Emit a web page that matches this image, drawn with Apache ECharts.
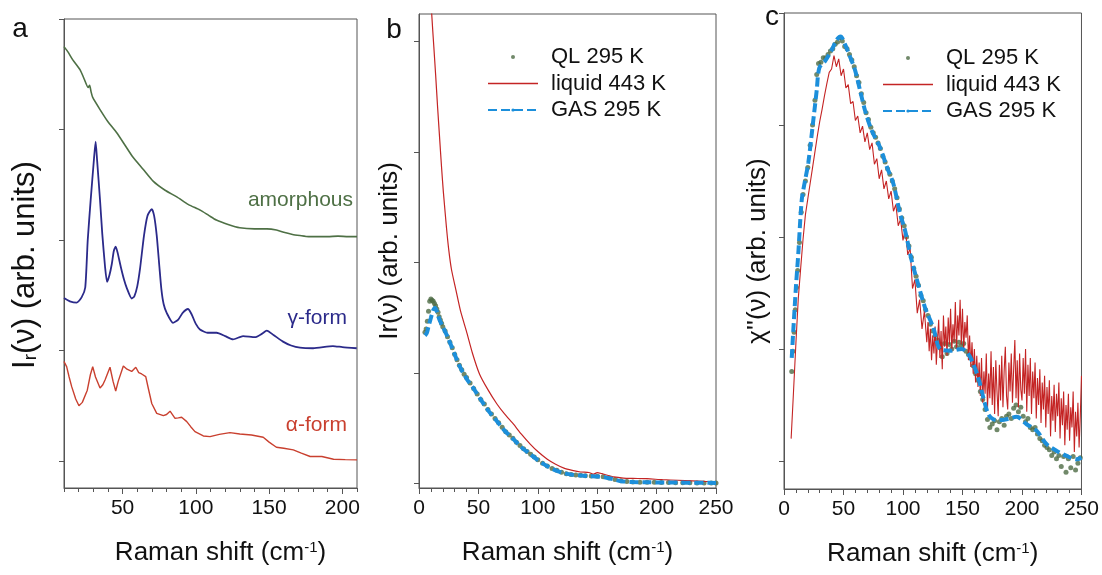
<!DOCTYPE html>
<html><head><meta charset="utf-8">
<script src="https://cdn.jsdelivr.net/npm/echarts@6/dist/echarts.min.js"></script>
<style>html,body{margin:0;padding:0;background:#fff}#c{width:1102px;height:575px}</style>
</head><body><div id="c"></div>
<script>
// ---------- Panel a ----------
const amorX = [10,12.8,16,21,24,26.5,27.5,28.5,29.6,34.6,40,46,52,57,64,71,79,87,95,103,109,114,122,130,140,148.5,155,160,166,171,177,183,190,197,204,210];
const amorY = [3.75,3.70,3.63,3.54,3.45,3.38,3.40,3.34,3.29,3.18,3.07,2.97,2.85,2.75,2.64,2.53,2.45,2.39,2.32,2.27,2.22,2.18,2.14,2.11,2.10,2.10,2.09,2.07,2.05,2.04,2.03,2.03,2.03,2.035,2.03,2.03];
const gammaX = [10,14,18.7,22,24.5,26.2,28.2,30.5,31.6,32.6,34.6,36.1,38,39.4,41,42.6,44,45.3,46.5,48.7,51,53,56.2,58,60,61.9,64.6,67,69.9,71.5,73.3,75.1,76.5,78,80.1,84.4,88,91,94.6,97,100,102.8,108,114.2,120,125.4,132.2,140.4,145,148.4,153,159.5,165,171.1,180,193.6,200,209.8];
const gammaY = [1.475,1.445,1.433,1.48,1.57,2.0,2.36,2.74,2.89,2.72,2.36,2.06,1.76,1.62,1.68,1.78,1.90,1.94,1.89,1.76,1.64,1.56,1.47,1.49,1.58,1.74,2.04,2.22,2.28,2.22,2.04,1.76,1.55,1.42,1.34,1.25,1.28,1.34,1.375,1.33,1.24,1.19,1.16,1.16,1.13,1.10,1.13,1.12,1.15,1.18,1.14,1.08,1.045,1.025,1.02,1.04,1.03,1.02];
const alphaX = [10,11.8,13.5,15.3,18,20.2,22.5,25.9,28,29.6,31.5,34.6,36.5,38,41.4,43.5,45.3,47,50.5,53,56.2,59,61,63,65.8,67.5,69.9,73.3,77.8,80,82.4,85.8,88,90.3,93.8,96.5,99.4,105.1,109.7,116,123.3,130,138,146,150,155,160,166.5,172,178,186,194,202,210];
const alphaY = [0.90,0.853,0.76,0.67,0.56,0.50,0.53,0.64,0.78,0.853,0.76,0.66,0.69,0.733,0.848,0.72,0.633,0.72,0.86,0.83,0.81,0.848,0.80,0.787,0.763,0.66,0.52,0.43,0.41,0.42,0.45,0.386,0.39,0.395,0.356,0.31,0.265,0.226,0.22,0.24,0.256,0.244,0.235,0.214,0.17,0.124,0.115,0.10,0.07,0.04,0.04,0.015,0.012,0.01];
const ticksAX = [50,100,150,200];

// ---------- Panel b ----------
const liqBX = [10,10.7,12.5,14,15.7,17.4,19,20.5,23.1,25,27.3,30.9,35,39.9,45,51,58,65.6,72,79.7,86,93.8,100,108,115,122,129,136,143,147,150,154,157,164,172,180,192,205,218,230,240,250];
const liqBY = [4.5,4.25,3.95,3.7,3.4,3.12,2.86,2.64,2.32,2.12,1.94,1.76,1.56,1.38,1.18,0.99,0.85,0.72,0.63,0.535,0.45,0.355,0.29,0.22,0.175,0.14,0.12,0.105,0.10,0.085,0.10,0.09,0.08,0.06,0.05,0.047,0.044,0.035,0.03,0.025,0.02,0.018];
const qlBX = [5,6,7,8,9,10,11,12,13,14,15,16,17,18,19,20,22,24,26,28,30,32,34,36,38,40,43,46,49,52,55,58,61,64,67,70,73,76,79,82,85,88,91,94,97,100,104,108,112,116,120,124,128,132,136,140,145,150,155,160,165,170,175,180,186,192,198,204,210,216,222,228,234,240,246,250];
const qlBY = [1.37,1.40,1.47,1.56,1.65,1.67,1.66,1.65,1.63,1.61,1.58,1.55,1.51,1.48,1.45,1.42,1.38,1.33,1.28,1.23,1.17,1.12,1.07,1.03,0.99,0.96,0.91,0.86,0.81,0.76,0.72,0.67,0.63,0.59,0.55,0.51,0.47,0.44,0.41,0.375,0.345,0.315,0.29,0.265,0.24,0.215,0.185,0.16,0.137,0.12,0.102,0.09,0.083,0.078,0.075,0.072,0.068,0.066,0.062,0.05,0.038,0.025,0.018,0.015,0.013,0.012,0.011,0.01,0.01,0.008,0.008,0.007,0.006,0.005,0.005,0.005];
const gasBX = [5,6.5,8,10,12,13.5,15,17,20,24.4,30,34.3,40,46,51.4,58,65.6,72,79.7,86,93.8,100,108,115,122,129,136,143,150,156,163,170,180,192,205,218,230,240,250];
const gasBY = [1.34,1.36,1.42,1.50,1.57,1.59,1.56,1.49,1.42,1.32,1.17,1.06,0.95,0.86,0.77,0.665,0.565,0.48,0.40,0.33,0.265,0.212,0.157,0.12,0.095,0.08,0.073,0.068,0.064,0.058,0.042,0.022,0.014,0.012,0.01,0.009,0.008,0.007,0.006];

// ---------- Panel c ----------
const liqCX = [6,8,10,12,14,16,18,20,22,24,
  26,28,30,32,34,36,38,40,42,44,
  46,48,50,52,54,56,58,60,62,64,
  66,68,70,72,74,76,78,80,82,84,
  86,88,90,92,94,96,98,100,102,104,
  106,108,110,112,114,116,118,
  120,121,122,123,124,125,126,127,128,129,
  130,131,132,133,134,135,136,137,138,139,
  140,141,142,143,144,145,146,147,148,149,
  150,151,152,153,154,155,156,157,158,159,
  160,161,162,163,164,165,166,167,168,169,
  170,171,172,173,174,175,176,177,178,179,
  180,181,182,183,184,185,186,187,188,189,
  190,191,192,193,194,195,196,197,198,199,
  200,201,202,203,204,205,206,207,208,209,
  210,211,212,213,214,215,216,217,218,219,
  220,221,222,223,224,225,226,227,228,229,
  230,231,232,233,234,235,236,237,238,239,
  240,241,242,243,244,245,246,247,248,249,
  250];
const liqCY = [0.20,0.62,1.05,1.45,1.72,1.98,2.20,2.34,2.48,2.62,
  2.76,2.90,3.03,3.14,3.26,3.37,3.47,3.50,3.62,3.52,
  3.59,3.44,3.50,3.33,3.36,3.19,3.21,3.04,3.08,2.93,
  2.99,2.85,2.93,2.78,2.84,2.65,2.70,2.52,2.60,2.43,
  2.50,2.34,2.41,2.23,2.29,2.10,2.16,1.97,2.08,1.84,
  1.90,1.54,1.62,1.32,1.44,1.18,1.34,
  1.06,1.24,0.98,1.18,0.90,1.12,0.96,1.20,0.86,1.08,
  1.26,0.92,1.16,0.82,1.30,1.02,1.20,0.94,1.28,1.04,
  1.36,0.98,1.22,1.06,1.42,1.00,1.30,1.12,1.44,1.04,
  1.36,0.98,1.24,1.10,1.30,0.90,1.12,0.84,1.06,0.78,
  1.00,0.70,0.94,0.66,0.88,0.58,0.92,0.52,0.80,0.60,
  0.96,0.46,0.78,0.56,0.98,0.50,0.84,0.42,0.90,0.62,
  0.40,0.86,0.54,0.94,0.48,0.80,1.02,0.58,0.46,0.88,
  0.62,0.96,0.52,0.82,1.08,0.56,0.90,0.48,0.96,0.64,
  0.54,0.92,0.60,1.00,0.44,0.86,0.58,0.92,0.42,0.80,
  0.56,0.88,0.38,0.74,0.50,0.82,0.34,0.70,0.46,0.76,
  0.30,0.66,0.42,0.72,0.22,0.58,0.36,0.68,0.26,0.60,
  0.40,0.70,0.20,0.56,0.32,0.62,0.14,0.50,0.28,0.60,
  0.18,0.48,0.30,0.62,0.08,0.44,0.22,0.52,0.12,0.40,
  0.76];
const qlCX = [6.5,7.5,8.5,9.5,10.5,11.5,13,14.5,16,18,20,22,24,26,27.5,
  29,31,33,35,37,39,41,43,45,47,
  49,51,53,55,57,59,61,63,65,67,
  69,71,73,75,77,79,81,83,85,87,
  89,91,93,95,97,99,101,103,105,107,
  109,111,113,115,117,119,121,123,125,127,
  129,131,133,135,137,139,141,143,145,147,
  149,151,153,155,157,159,161,163,165,167,
  169,171,173,175,177,179,181,183,185,187,
  189,191,193,195,197,199,201,203,205,207,
  209,211,213,215,217,219,221,223,225,227,
  229,231,233,235,237,239,241,243,245,247,
  249];
const qlCY = [0.80,0.98,1.15,1.35,1.55,1.70,1.95,2.22,2.38,2.50,2.62,2.82,3.00,3.22,3.45,
  3.55,3.56,3.60,3.60,3.63,3.66,3.68,3.72,3.74,3.78,
  3.75,3.70,3.68,3.63,3.58,3.52,3.44,3.38,3.28,3.20,
  3.11,3.05,2.98,2.93,2.89,2.84,2.79,2.72,2.67,2.61,
  2.56,2.50,2.43,2.35,2.25,2.17,2.10,2.00,1.92,1.82,
  1.72,1.65,1.57,1.48,1.43,1.35,1.30,1.22,1.16,1.12,
  1.08,1.02,0.93,1.05,0.96,1.04,1.00,1.07,1.02,1.06,
  1.03,1.05,0.98,0.95,0.92,0.85,0.78,0.72,0.62,0.55,
  0.46,0.37,0.30,0.33,0.36,0.28,0.35,0.38,0.32,0.40,
  0.42,0.38,0.47,0.50,0.44,0.48,0.40,0.35,0.38,0.30,
  0.28,0.30,0.24,0.20,0.18,0.14,0.12,0.10,0.05,0.08,
  0.02,0.05,-0.05,0.04,-0.10,0.02,-0.06,0.04,-0.08,-0.02,
  0.03];
const gasCX = [6.5,8,10,12,14.9,17.6,20.4,24.6,27.5,29.7,34.5,40.1,44.3,47.6,51.3,55.5,59.7,63.9,68.1,73.7,80.7,86.3,91.8,97.5,101.7,107.3,114.3,118.5,125.5,131.1,139.5,149.3,154.9,159.1,163.3,167.5,171.7,175.9,181.5,187.1,195.5,203.9,212.4,220.7,229.2,237.6,246,250];
const gasCY = [0.92,1.2,1.55,1.85,2.33,2.5,2.66,3.04,3.31,3.51,3.57,3.67,3.76,3.79,3.72,3.61,3.49,3.31,3.13,2.95,2.80,2.63,2.48,2.21,2.06,1.79,1.52,1.37,1.19,1.0,0.985,1.0,0.955,0.865,0.745,0.567,0.418,0.373,0.365,0.373,0.394,0.328,0.269,0.15,0.09,0.045,0.015,0.03];
const ticksY = [0,1,2,3,4];

const FF = '"Liberation Sans", Arial, Helvetica, sans-serif';
const AX = '#555';
const C_AMOR = '#4e7045', C_GAM = '#2b2a8a', C_ALP = '#c9402f';
const C_LIQ = '#c42424', C_QL = '#4d6b45', C_GAS = '#1c8fdb';
function zip(xs, ys){ return xs.map((x,i)=>[x, ys[i]]); }

const chart = echarts.init(document.getElementById('c'));

function yAx(grid, min, max){
  return {type:'value', gridIndex:grid, min:min, max:max,
    axisLine:{show:true, onZero:false, lineStyle:{color:AX, width:1}},
    axisTick:{show:true, inside:false, length:5, customValues:ticksY, lineStyle:{color:AX}},
    axisLabel:{show:false}, splitLine:{show:false}};
}
const xName = {name:'Raman shift (cm{sup|-1})', nameLocation:'middle', nameGap:52,
  nameTextStyle:{fontSize:26, fontFamily:FF, color:'#111',
    rich:{sup:{fontSize:15, fontFamily:FF, color:'#111', verticalAlign:'top', lineHeight:12}}}};
const labelStyle = {fontSize:21, fontFamily:FF, color:'#111', margin:10};
function legendAt(left, top){
  return {orient:'vertical', left:left, top:top, padding:0, itemWidth:50, itemHeight:4, itemGap:4.5,
    selectedMode:false,
    data:[{name:'QL 295 K', icon:'circle'},
          {name:'liquid 443 K', icon:'path://M0,0 L50,0 L50,1.3 L0,1.3 Z'},
          'GAS 295 K'],
    textStyle:{fontSize:22, fontFamily:FF, color:'#111', lineHeight:22, padding:[0,0,0,8]}};
}

const option = {
  animation:false,
  backgroundColor:'#fff',
  grid:[
    {left:64, top:19, width:293, height:469, show:true, borderColor:AX, borderWidth:1},
    {left:419, top:14, width:297, height:474, show:true, borderColor:AX, borderWidth:1},
    {left:784, top:13, width:298, height:476, show:true, borderColor:AX, borderWidth:1}
  ],
  xAxis:[
    Object.assign({type:'value', gridIndex:0, min:10, max:210, interval:10,
      axisLine:{onZero:false, lineStyle:{color:AX}},
      axisTick:{length:4, lineStyle:{color:AX}},
      axisLabel:Object.assign({customValues:ticksAX}, labelStyle),
      splitLine:{show:false}}, xName,
      {nameTextStyle:Object.assign({}, xName.nameTextStyle, {padding:[0,0,0,20]})}),
    Object.assign({type:'value', gridIndex:1, min:0, max:250, interval:50,
      axisLine:{onZero:false, lineStyle:{color:AX}},
      axisTick:{length:6, lineStyle:{color:AX}},
      minorTick:{show:true, splitNumber:5, length:4, lineStyle:{color:AX}},
      axisLabel:labelStyle, splitLine:{show:false}, minorSplitLine:{show:false}}, xName),
    Object.assign({type:'value', gridIndex:2, min:0, max:250, interval:50,
      axisLine:{onZero:false, lineStyle:{color:AX}},
      axisTick:{length:6, lineStyle:{color:AX}},
      minorTick:{show:true, splitNumber:5, length:4, lineStyle:{color:AX}},
      axisLabel:labelStyle, splitLine:{show:false}, minorSplitLine:{show:false}}, xName),
    {type:'value', gridIndex:0, min:10, max:210, position:'bottom',
      axisLine:{show:false, onZero:false},
      axisTick:{show:true, length:6, customValues:ticksAX, lineStyle:{color:AX}},
      axisLabel:{show:false}, splitLine:{show:false}}
  ],
  yAxis:[ yAx(0, -0.245, 4.0), yAx(1, -0.04, 4.25), yAx(2, -0.25, 4.0) ],
  legend:[ legendAt(487, 46), legendAt(882, 47) ],
  series:[
    {name:'amorphous', type:'line', xAxisIndex:0, yAxisIndex:0, data:zip(amorX, amorY),
      symbol:'none', smooth:0.2, lineStyle:{color:C_AMOR, width:1.6}, itemStyle:{color:C_AMOR}},
    {name:'γ-form', type:'line', xAxisIndex:0, yAxisIndex:0, data:zip(gammaX, gammaY),
      symbol:'none', smooth:0.2, lineStyle:{color:C_GAM, width:1.8}, itemStyle:{color:C_GAM}},
    {name:'α-form', type:'line', xAxisIndex:0, yAxisIndex:0, data:zip(alphaX, alphaY),
      symbol:'none', lineStyle:{color:C_ALP, width:1.4}, itemStyle:{color:C_ALP}},

    {name:'liquid 443 K', type:'line', xAxisIndex:1, yAxisIndex:1, data:zip(liqBX, liqBY),
      symbol:'none', smooth:0.2, lineStyle:{color:C_LIQ, width:1.2}, itemStyle:{color:C_LIQ}},
    {name:'QL 295 K', type:'scatter', xAxisIndex:1, yAxisIndex:1, data:zip(qlBX, qlBY),
      symbol:'circle', symbolSize:5, itemStyle:{color:C_QL}},
    {name:'GAS 295 K', type:'line', xAxisIndex:1, yAxisIndex:1, data:zip(gasBX, gasBY),
      symbol:'none', smooth:0.3, lineStyle:{color:C_GAS, width:4, type:[9,4]}, itemStyle:{color:C_GAS}},

    {name:'liquid 443 K', type:'line', xAxisIndex:2, yAxisIndex:2, data:zip(liqCX, liqCY),
      symbol:'none', lineStyle:{color:C_LIQ, width:1.1}, itemStyle:{color:C_LIQ}},
    {name:'QL 295 K', type:'scatter', xAxisIndex:2, yAxisIndex:2, data:zip(qlCX, qlCY),
      symbol:'circle', symbolSize:5, itemStyle:{color:C_QL}},
    {name:'GAS 295 K', type:'line', xAxisIndex:2, yAxisIndex:2, data:zip(gasCX, gasCY),
      symbol:'none', smooth:0.3, lineStyle:{color:C_GAS, width:4, type:[9,4]}, itemStyle:{color:C_GAS}}
  ],
  graphic:[
    {type:'text', x:20, y:29, style:{text:'a', fontSize:28, fontFamily:FF, fill:'#111', align:'center', verticalAlign:'middle'}},
    {type:'text', x:394, y:30, style:{text:'b', fontSize:28, fontFamily:FF, fill:'#111', align:'center', verticalAlign:'middle'}},
    {type:'text', x:772, y:17, style:{text:'c', fontSize:28, fontFamily:FF, fill:'#111', align:'center', verticalAlign:'middle'}},
    {type:'text', x:353, y:200, style:{text:'amorphous', fontSize:21, fontFamily:FF, fill:C_AMOR, align:'right', verticalAlign:'middle'}},
    {type:'text', x:347, y:318, style:{text:'γ-form', fontSize:21, fontFamily:FF, fill:C_GAM, align:'right', verticalAlign:'middle'}},
    {type:'text', x:347, y:425, style:{text:'α-form', fontSize:21, fontFamily:FF, fill:C_ALP, align:'right', verticalAlign:'middle'}},
    {type:'text', x:25, y:265, rotation:Math.PI/2, style:{
      text:'{m|I}{s|r}{m|(ν) (arb. units)}', align:'center', verticalAlign:'middle',
      rich:{m:{fontSize:31, fontFamily:FF, fill:'#111'}, s:{fontSize:19, fontFamily:FF, fill:'#111', verticalAlign:'bottom', lineHeight:12}}}},
    {type:'text', x:390, y:251, rotation:Math.PI/2, style:{
      text:'Ir(ν) (arb. units)', fontSize:26, fontFamily:FF, fill:'#111', align:'center', verticalAlign:'middle'}},
    {type:'text', x:758, y:251, rotation:Math.PI/2, style:{
      text:"χ''(ν) (arb. units)", fontSize:26, fontFamily:FF, fill:'#111', align:'center', verticalAlign:'middle'}}
  ]
};
chart.setOption(option);
</script>
</body></html>
